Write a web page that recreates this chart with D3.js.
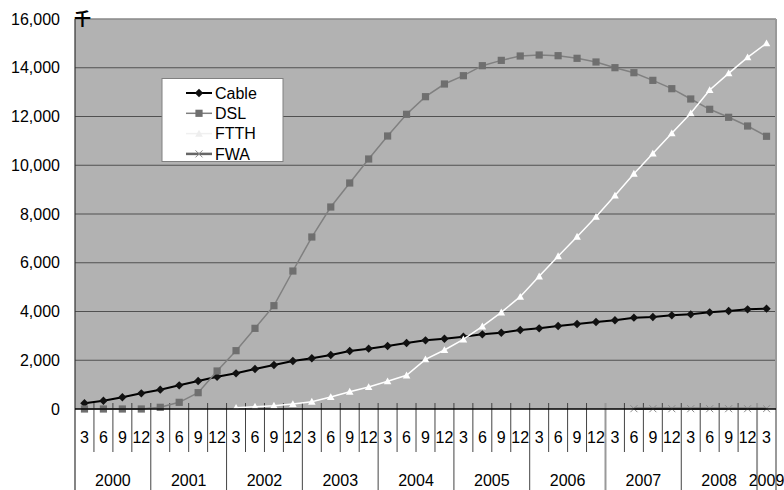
<!DOCTYPE html>
<html><head><meta charset="utf-8">
<script src="https://cdn.jsdelivr.net/npm/d3@7"></script>
<style>
body{margin:0;background:#fff}
svg text{font-family:"Liberation Sans",Arial,sans-serif;fill:#000}
</style>
</head><body>
<svg id="chart" width="784" height="490"></svg>
<script>
// ---- data ----
const years = ["2000","2001","2002","2003","2004","2005","2006","2007","2008","2009"];
const months = [3,6,9,12, 3,6,9,12, 3,6,9,12, 3,6,9,12, 3,6,9,12, 3,6,9,12, 3,6,9,12, 3,6,9,12, 3,6,9,12, 3];
const periodYear = ["2000","2000","2000","2000","2001","2001","2001","2001","2002","2002","2002","2002",
  "2003","2003","2003","2003","2004","2004","2004","2004","2005","2005","2005","2005",
  "2006","2006","2006","2006","2007","2007","2007","2007","2008","2008","2008","2008","2009"];
const cable = [234,341,480,643,793,971,1149,1326,1463,1641,1805,1969,2079,2215,2379,2475,2585,2708,2817,2885,
  2967,3063,3131,3241,3309,3405,3487,3569,3640,3747,3774,3843,3884,3966,4021,4089,4116];
const dsl = [0,0,0,0,70,274,670,1559,2393,3309,4239,5661,7056,8287,9272,10256,11200,12090,12813,13333,
  13674,14085,14303,14482,14523,14495,14387,14236,14003,13797,13483,13141,12718,12295,11967,11610,11188];
const ftth = [null,null,null,null,null,null,null,null,53,96,137,205,301,492,711,903,1135,1381,2038,2421,
  2858,3391,3965,4608,5442,6270,7070,7890,8760,9655,10480,11310,12131,13087,13771,14428,15002];
const fwa = [null,null,null,null,null,null,null,null,null,null,null,null,null,null,null,null,null,null,null,null,
  null,null,null,null,null,null,null,null,null,12,12,12,12,12,12,12,12];
const yTicks = [0,2000,4000,6000,8000,10000,12000,14000,16000];
const seriesNames = ["Cable","DSL","FTTH","FWA"];
const unitLabel = "千";

// ---- layout ----
const L = 75, R = 776, T = 19, B = 409;
const svg = d3.select("#chart");
const idx = d3.range(months.length);
const x = d3.scaleBand().domain(idx).range([L, R]).padding(0);
const y = d3.scaleLinear().domain([0, 16000]).range([B, T]);
const cx = i => x(i) + x.bandwidth() / 2;

// plot background
svg.append("rect").attr("x", L).attr("y", T).attr("width", R - L).attr("height", B - T).attr("fill", "#b2b2b2");

// gridlines
svg.append("g").selectAll("line").data(yTicks.filter(d => d > 0)).join("line")
  .attr("x1", L).attr("x2", R).attr("y1", d => y(d)).attr("y2", d => y(d))
  .attr("stroke", d => d === 16000 ? "#888" : "#505050").attr("stroke-width", d => d === 16000 ? 1.5 : 1.2);

// y axis labels
const yAxis = d3.axisLeft(y).tickValues(yTicks).tickFormat(d3.format(",")).tickSize(0).tickPadding(15);
const gy = svg.append("g").attr("transform", `translate(${L},0)`).call(yAxis);
gy.select(".domain").remove();
gy.selectAll("text").style("font-size", "16px").attr("fill", "#000");
svg.append("line").attr("x1", L).attr("x2", L).attr("y1", T).attr("y2", 490).attr("stroke", "#333").attr("stroke-width", 1.2);

// right border
svg.append("line").attr("x1", R).attr("x2", R).attr("y1", T).attr("y2", 490).attr("stroke", "#999").attr("stroke-width", 2);

// category ticks (boundaries)
const boundaries = d3.range(1, months.length);
const greyB = i => (periodYear[i] === "2007" && periodYear[i-1] === "2006") || periodYear[i] === "2009";
svg.append("g").selectAll("line").data(boundaries).join("line")
  .attr("x1", i => x(i)).attr("x2", i => x(i))
  .attr("y1", B - 6)
  .attr("y2", i => periodYear[i] !== periodYear[i - 1] ? 490 : 452)
  .attr("stroke", i => greyB(i) ? "#999" : "#444")
  .attr("stroke-width", i => greyB(i) ? 2 : 1);

// month labels
svg.append("g").selectAll("text").data(idx).join("text")
  .attr("x", i => cx(i)).attr("y", 437).attr("dy", "0.35em").attr("text-anchor", "middle")
  .style("font-size", "16px").text(i => months[i]);

// year labels
svg.append("g").selectAll("text").data(years).join("text")
  .attr("x", yr => {
    const ids = idx.filter(i => periodYear[i] === yr);
    return (x(ids[0]) + x(ids[ids.length - 1]) + x.bandwidth()) / 2;
  })
  .attr("y", 480).attr("dy", "0.35em").attr("text-anchor", "middle")
  .style("font-size", "16px").text(d => d);

// unit label
svg.append("text").attr("x", 82.5).attr("y", 19).attr("dy", "0.38em").attr("text-anchor", "middle")
  .style("font-family", "'Noto Sans CJK JP','Noto Sans CJK SC',sans-serif")
  .style("font-size", "17px").style("font-weight", "bold").text(unitLabel);

// marker shapes
const shapes = {
  diamond: s => `M0,${-s}L${s},0L0,${s}L${-s},0Z`,
  square: s => `M${-s},${-s}H${s}V${s}H${-s}Z`,
  triangle: s => `M0,${-s}L${s},${s*0.8}L${-s},${s*0.8}Z`,
  cross: s => `M${-s},${-s}L${s},${s}M${s},${-s}L${-s},${s}`
};

const series = [
  {name: "Cable", values: cable, line: "#000", lw: 2, shape: "diamond", size: 4.2, fill: "#111", stroke: "none"},
  {name: "DSL", values: dsl, line: "#808080", lw: 1.5, shape: "square", size: 3.6, fill: "#6f6f6f", stroke: "none"},
  {name: "FTTH", values: ftth, line: "#fff", lw: 1.5, shape: "triangle", size: 3.8, fill: "#fff", stroke: "none"},
  {name: "FWA", values: fwa, line: "#666", lw: 2.5, shape: "cross", size: 3.5, fill: "none", stroke: "#8a8a8a"}
];

const line = d3.line().defined(d => d.v != null).x(d => cx(d.i)).y(d => y(d.v));

series.forEach(s => {
  const pts = s.values.map((v, i) => ({i, v}));
  svg.append("path").datum(pts).attr("d", line).attr("fill", "none")
    .attr("stroke", s.line).attr("stroke-width", s.lw);
  svg.append("g").selectAll("path").data(pts.filter(d => d.v != null)).join("path")
    .attr("transform", d => `translate(${cx(d.i)},${y(d.v)})`)
    .attr("d", shapes[s.shape](s.size))
    .attr("fill", s.fill).attr("stroke", s.stroke).attr("stroke-width", 1);
});

// x axis line at zero
svg.append("line").attr("x1", L).attr("x2", R).attr("y1", B).attr("y2", B).attr("stroke", "#000").attr("stroke-width", 1.5);

// legend
const lg = svg.append("g");
lg.append("rect").attr("x", 162).attr("y", 78.5).attr("width", 121).attr("height", 83)
  .attr("fill", "#fff").attr("stroke", "#808080").attr("stroke-width", 1);
const legendLine = {Cable: "#000", DSL: "#808080", FTTH: "#f0f0f0", FWA: "#666"};
const legendMarker = {Cable: "#111", DSL: "#6f6f6f", FTTH: "#eeeeee", FWA: "#8a8a8a"};
series.forEach((s, k) => {
  const yy = 93 + k * 20.3;
  lg.append("line").attr("x1", 186).attr("x2", 212).attr("y1", yy).attr("y2", yy)
    .attr("stroke", legendLine[s.name]).attr("stroke-width", s.lw);
  lg.append("path").attr("transform", `translate(199,${yy})`).attr("d", shapes[s.shape](s.size))
    .attr("fill", s.fill === "none" ? "none" : legendMarker[s.name])
    .attr("stroke", s.stroke === "none" ? "none" : legendMarker[s.name]).attr("stroke-width", 1);
  lg.append("text").attr("x", 215).attr("y", yy).attr("dy", "0.36em").style("font-size", "16px").text(s.name);
});
</script>
</body></html>
